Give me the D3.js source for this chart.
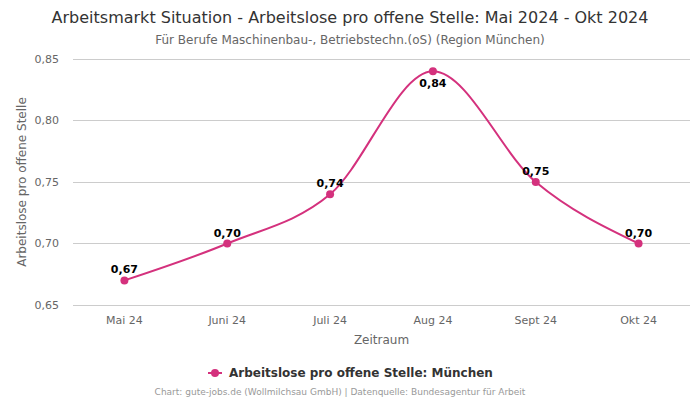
<!DOCTYPE html>
<html><head><meta charset="utf-8">
<script src="https://cdn.jsdelivr.net/npm/d3@7/dist/d3.min.js"></script>
<style>body{margin:0;background:#fff}svg{display:block;font-family:"DejaVu Sans",sans-serif}</style>
</head><body><svg id="c" width="700" height="400"></svg>
<script>
const categories = ["Mai 24","Juni 24","Juli 24","Aug 24","Sept 24","Okt 24"];
const values = [0.67,0.70,0.74,0.84,0.75,0.70];
const yTicks = [0.65,0.70,0.75,0.80,0.85];
const seriesName = "Arbeitslose pro offene Stelle: München";
const title = "Arbeitsmarkt Situation - Arbeitslose pro offene Stelle: Mai 2024 - Okt 2024";
const subtitle = "Für Berufe Maschinenbau-, Betriebstechn.(oS) (Region München)";
const footer = "Chart: gute-jobs.de (Wollmilchsau GmbH) | Datenquelle: Bundesagentur für Arbeit";
const color = "#d4317d";

const svg = d3.select("#c");
const m = {l:73, r:690, t:59, b:305};
const x = d3.scaleBand().domain(categories).range([m.l, m.r]);
const y = d3.scaleLinear().domain([0.65,0.85]).range([m.b, m.t]);
const fmt = v => d3.format(".2f")(v).replace(".", ",");

svg.append("text").attr("x",350).attr("y",23).attr("text-anchor","middle")
  .attr("font-size",16).attr("fill","#333").text(title);
svg.append("text").attr("x",350).attr("y",44).attr("text-anchor","middle")
  .attr("font-size",12).attr("fill","#666").text(subtitle);

const gy = svg.append("g");
yTicks.forEach(t=>{
  gy.append("line").attr("x1",m.l).attr("x2",m.r).attr("y1",y(t)).attr("y2",y(t))
    .attr("stroke","#ccc").attr("stroke-width",1).attr("shape-rendering","crispEdges");
  gy.append("text").attr("x",m.l-14).attr("y",y(t)).attr("dy","0.35em").attr("text-anchor","end")
    .attr("font-size",11).attr("fill","#666").text(fmt(t));
});
categories.forEach(c=>{
  svg.append("text").attr("x",x(c)+x.bandwidth()/2).attr("y",m.b+19).attr("text-anchor","middle")
    .attr("font-size",11).attr("fill","#666").text(c);
});
svg.append("text").attr("x",(m.l+m.r)/2).attr("y",344).attr("text-anchor","middle")
  .attr("font-size",12).attr("fill","#666").text("Zeitraum");
svg.append("text").attr("transform",`translate(26,${(m.t+m.b)/2}) rotate(-90)`).attr("text-anchor","middle")
  .attr("font-size",12).attr("fill","#666").text("Arbeitslose pro offene Stelle");

const pts = categories.map((c,i)=>[x(c)+x.bandwidth()/2, y(values[i])]);
svg.append("path").attr("d", d3.line().curve(d3.curveMonotoneX)(pts))
  .attr("fill","none").attr("stroke",color).attr("stroke-width",2);
const maxI = values.indexOf(d3.max(values));
pts.forEach((p,i)=>{
  svg.append("circle").attr("cx",p[0]).attr("cy",p[1]).attr("r",4).attr("fill",color);
  svg.append("text").attr("x",p[0]).attr("y", i===maxI ? p[1]+16 : p[1]-7)
    .attr("text-anchor","middle").attr("font-size",11).attr("font-weight","bold").attr("fill","#000")
    .text(fmt(values[i]));
});

const lg = svg.append("g");
lg.append("line").attr("x1",208).attr("x2",222).attr("y1",373).attr("y2",373).attr("stroke",color).attr("stroke-width",2);
lg.append("circle").attr("cx",215).attr("cy",373).attr("r",4).attr("fill",color);
lg.append("text").attr("x",229).attr("y",373).attr("dy","0.35em").attr("font-size",12).attr("font-weight","bold")
  .attr("fill","#333").text(seriesName);
svg.append("text").attr("x",340).attr("y",395).attr("text-anchor","middle")
  .attr("font-size",9).attr("fill","#999").text(footer);
</script></body></html>
